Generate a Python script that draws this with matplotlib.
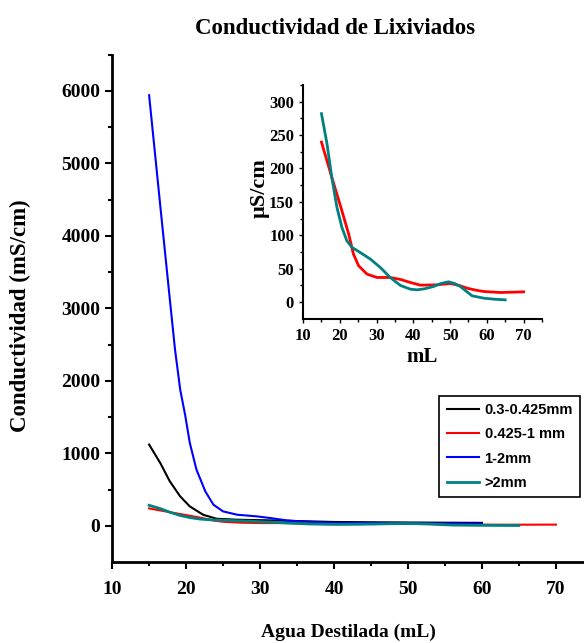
import matplotlib
matplotlib.use("Agg")
import matplotlib.pyplot as plt

plt.rcParams['font.family'] = ['Liberation Serif', 'DejaVu Serif']
plt.rcParams['font.weight'] = 'bold'

# 0.3-0.425mm
x_black = [15, 16.5, 17.8, 19.2, 20.5, 22.3, 24.1, 26.9, 31.4, 35, 40, 45, 50, 55, 60]
y_black = [1120, 867, 613, 405, 267, 152, 97, 83, 74, 65, 52, 48, 45, 42, 40]
# 0.425-1 mm
x_red = [15, 17.8, 20.55, 22.4, 23.7, 25.1, 27.4, 30.1, 33.7, 36.5, 39.2, 41.9, 46.5, 50.1, 52.5,
         54.6, 57, 59.2, 63.7, 67, 70]
y_red = [239.5, 187, 137, 102, 72, 54.5, 42, 37, 37, 34, 29.5, 25.5, 26, 28, 25,
         21, 18, 16, 14.5, 15, 15.5]
# 1-2mm
x_blue = [15, 16.5, 17.8, 18.5, 19.2, 19.9, 20.5, 21.4, 22.6, 23.7, 25, 26.9, 29.6, 31.4, 33.6,
          35.4, 39.9, 45, 50, 55, 60]
y_blue = [5940, 4425, 3126, 2434, 1881, 1512, 1144, 775, 474, 290, 198, 152, 129, 106, 74,
          60, 40, 38, 36, 32, 28]
# >2mm
x_teal = [15, 16.5, 17.8, 19.2, 20.55, 21.9, 23.3, 25.5, 28.3, 31, 33.7, 36.5, 39.2, 41, 43,
          45.5, 47.5, 49.6, 51.2, 52.8, 54.5, 56, 59.2, 62, 65]
y_teal = [282, 237, 187, 142, 112, 92, 82, 74.5, 64.5, 52, 37, 25, 19.5, 18.5, 20,
          23.5, 28, 30.5, 28, 23.5, 16, 9.5, 6, 4.5, 3.5]

labels = ['0.3-0.425mm', '0.425-1 mm', '1-2mm', '>2mm']
teal = '#008080'

fig = plt.figure(figsize=(5.84, 6.43), dpi=100)
ax = fig.add_axes([0.192, 0.126, 0.808, 0.789])
ax.plot(x_black, y_black, color='black', lw=1.5, label=labels[0])
ax.plot(x_red, y_red, color='red', lw=1.5, label=labels[1])
ax.plot(x_blue, y_blue, color='blue', lw=1.5, label=labels[2])
ax.plot(x_teal, y_teal, color=teal, lw=2, label=labels[3])

ax.set_xlim(10, 73.8)
ax.set_ylim(-500, 6500)
ax.set_xticks(range(10, 71, 10))
ax.set_xticks(range(15, 71, 10), minor=True)
ax.set_yticks(range(0, 6001, 1000))
ax.set_yticks(range(500, 6501, 1000), minor=True)
for s in ['top', 'right']:
    ax.spines[s].set_visible(False)
for s in ['left', 'bottom']:
    ax.spines[s].set_linewidth(2)
ax.tick_params(which='major', direction='out', length=5, width=1.5, labelsize=14)
ax.tick_params(axis='x', which='major', pad=9)
ax.tick_params(which='minor', direction='out', length=3, width=1.5)
ax.set_xlabel('Agua Destilada (mL)', fontsize=14, fontweight='bold', labelpad=18)
ax.set_ylabel('Conductividad (mS/cm)', fontsize=16.5, fontweight='bold', labelpad=20)
ax.yaxis.set_label_coords(-0.172, 0.485)
fig.suptitle('Conductividad de Lixiviados', x=0.574, y=0.972, fontsize=16.5, fontweight='bold')

leg = ax.legend(loc='lower right', bbox_to_anchor=(0.992, 0.128), borderaxespad=0,
                fancybox=False, edgecolor='black', framealpha=1, handlelength=2.2,
                labelspacing=0.7, borderpad=0.5, handletextpad=0.4,
                prop={'family': ['Liberation Sans Narrow', 'Liberation Sans'], 'weight': 'bold', 'size': 10.5})
leg.get_frame().set_linewidth(1.2)

# inset
ins = fig.add_axes([0.519, 0.504, 0.409, 0.364])
ins.plot(x_red, y_red, color='red', lw=2)
ins.plot(x_teal, y_teal, color=teal, lw=2)
ins.set_xlim(10, 75)
ins.set_ylim(-25, 325)
ins.set_xticks(range(10, 71, 10))
ins.set_xticks(range(15, 76, 10), minor=True)
ins.set_yticks(range(0, 301, 50))
ins.set_yticks(range(25, 326, 50), minor=True)
for s in ['top', 'right']:
    ins.spines[s].set_visible(False)
for s in ['left', 'bottom']:
    ins.spines[s].set_linewidth(1.5)
ins.tick_params(which='major', direction='out', length=3, width=1, labelsize=12)
ins.tick_params(which='minor', direction='out', length=2, width=1)
ins.set_xlabel('mL', fontsize=15, fontweight='bold', labelpad=2)
ins.set_ylabel('\u00b5S/cm', fontsize=16, fontweight='bold', labelpad=3)
ins.yaxis.set_label_coords(-0.14, 0.56)

fig.savefig('out.png', dpi=100)
